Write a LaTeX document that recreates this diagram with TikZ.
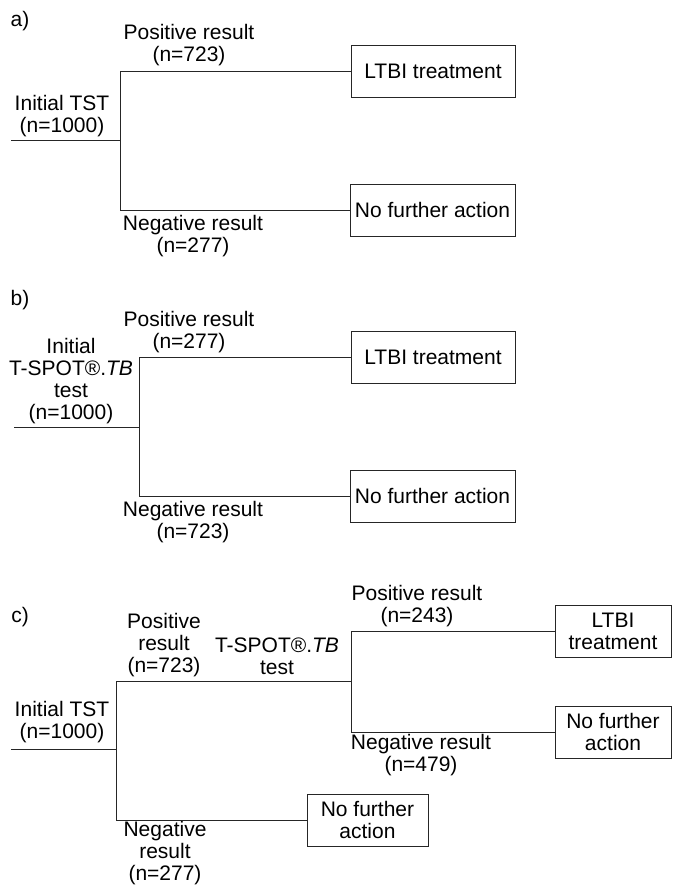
\documentclass[tikz,border=0pt]{standalone}
\usepackage{fontspec}
\setmainfont{Liberation Sans}
\usetikzlibrary{calc}
\tikzset{
    tree/.style={
        x=1pt,y=-1pt,line width=1pt,color=black!85,
        lbl/.append style={align=center,inner sep=0pt,text=black,font=\fontsize{21}{22}\selectfont},
        panel/.append style={inner sep=0pt,text=black,font=\fontsize{21}{22}\selectfont},
        outcome/.append style={draw,rectangle,align=center,inner sep=0pt,text=black,minimum height=52pt,font=\fontsize{21}{22}\selectfont},
    }
}

\begin{document}
\begin{tikzpicture}[tree]
    \useasboundingbox (0,0) rectangle (672,886);
    % a)
    \node[panel] (tagA) at (20,21) {a)};
    \node[lbl] (initA) at (62,116) {Initial TST\\(n=1000)};
    \node[lbl] (posA) at (189,45) {Positive result\\(n=723)};
    \node[lbl] (negA) at (193,236) {Negative result\\(n=277)};
    \node[outcome,minimum width=164pt] (ltbiA) at (433,71.5) {LTBI treatment};
    \node[outcome,minimum width=165pt] (nfaA) at (432.5,210) {No further action};
    \coordinate (startA) at (11,140);
    \coordinate (forkA) at (120,140);
    \draw (startA) -- (forkA);
    \draw (forkA) |- (ltbiA.west);
    \draw (forkA) |- (nfaA.west);
    % b)
    \node[panel] (tagB) at (20,300) {b)};
    \node[lbl] (initB) at (71,381) {Initial\\T-SPOT®.\textit{TB}\\test\\(n=1000)};
    \node[lbl] (posB) at (189,332) {Positive result\\(n=277)};
    \node[lbl] (negB) at (193,522) {Negative result\\(n=723)};
    \node[outcome,minimum width=164pt] (ltbiB) at (433,357) {LTBI treatment};
    \node[outcome,minimum width=165pt] (nfaB) at (432.5,496) {No further action};
    \coordinate (startB) at (14,427);
    \coordinate (forkB) at (139,427);
    \draw (startB) -- (forkB);
    \draw (forkB) |- (ltbiB.west);
    \draw (forkB) |- (nfaB.west);
    % c)
    \node[panel] (tagC) at (20,617) {c)};
    \node[lbl] (initC) at (62,722) {Initial TST\\(n=1000)};
    \node[lbl] (posC) at (164,645) {Positive\\result\\(n=723)};
    \node[lbl] (spotC) at (277,656) {T-SPOT®.\textit{TB}\\test};
    \node[lbl] (negC) at (165,853) {Negative\\result\\(n=277)};
    \node[lbl] (posC2) at (417,606) {Positive result\\(n=243)};
    \node[lbl] (negC2) at (421,755) {Negative result\\(n=479)};
    \node[outcome,minimum width=116pt] (ltbiC) at (613,631) {LTBI\\treatment};
    \node[outcome,minimum width=116pt] (nfaC2) at (613,732) {No further\\action};
    \node[outcome,minimum width=121pt] (nfaC) at (367.5,820) {No further\\action};
    \coordinate (startC) at (11,749);
    \coordinate (forkC) at (116,749);
    \coordinate (forkC2) at (351,681);
    \draw (startC) -- (forkC);
    \draw (forkC) |- (forkC2);
    \draw (forkC) |- (nfaC.west);
    \draw (forkC2) |- (ltbiC.west);
    \draw (forkC2) |- (nfaC2.west);
\end{tikzpicture}
\end{document}
